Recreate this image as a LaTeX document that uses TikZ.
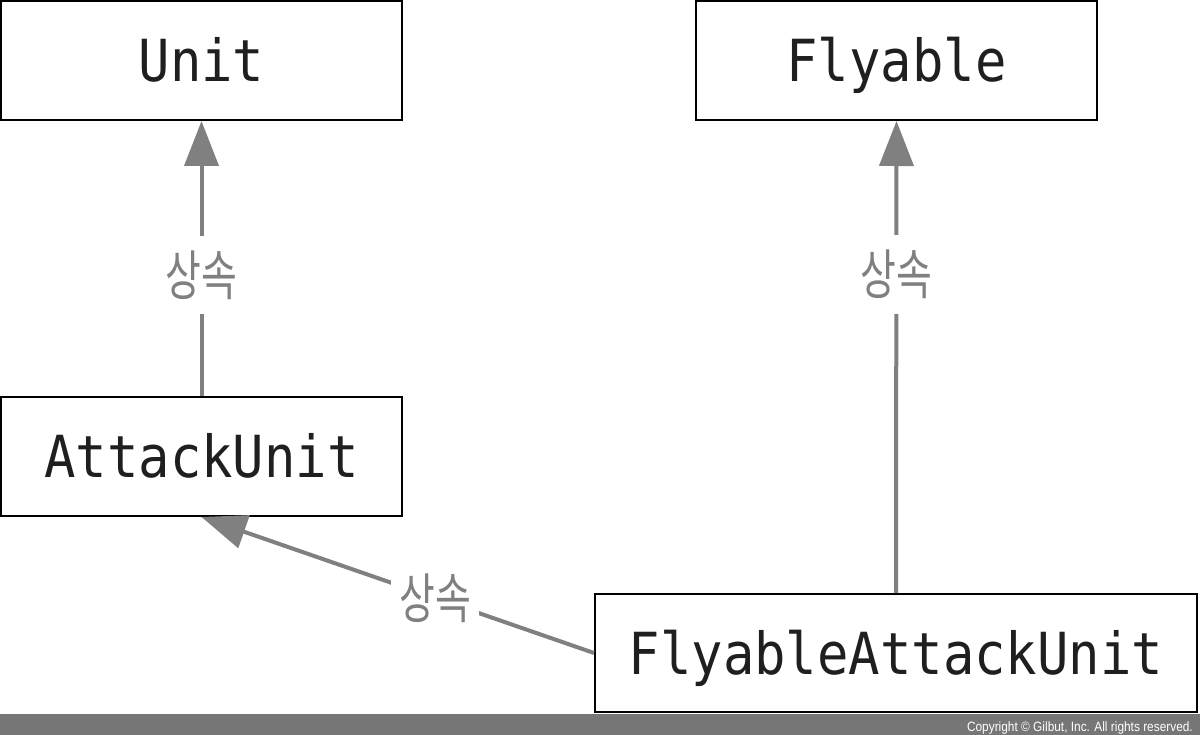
\documentclass[tikz,border=0pt]{standalone}
\usepackage{fontspec}
\usetikzlibrary{arrows.meta}
\newfontfamily\monofnt[FakeStretch=0.90]{DejaVu Sans Mono}
\newfontfamily\krfnt[FakeStretch=0.72]{Noto Sans CJK KR}
\newfontfamily\arialfnt[FakeStretch=0.88]{Liberation Sans}
\definecolor{linegray}{HTML}{808080}
\definecolor{bargray}{HTML}{767676}
\begin{document}
\begin{tikzpicture}[x=1pt,y=-1pt,
  classbox/.style={draw=black, line width=2pt, fill=white, inner sep=0pt,
    minimum height=119pt, text=black!88,
    font=\monofnt\fontsize{58}{58}\selectfont, text height=42pt, text depth=0pt},
  conn/.style={draw=linegray, line width=4pt, -{Triangle[length=45pt,width=34pt]}},
  lbl/.style={fill=white, text=linegray, inner xsep=8pt, inner ysep=15pt,
    font=\krfnt\fontsize{54}{54}\selectfont}
]
\useasboundingbox (0,0) rectangle (1200,735);
\fill[white] (0,0) rectangle (1200,735);
\node[classbox, minimum width=401pt] (unit) at (201.5,60.5) {Unit};
\node[classbox, minimum width=401pt] (fly) at (896.5,60.5) {Flyable};
\node[classbox, minimum width=401pt] (au) at (201.5,456.5) {AttackUnit};
\node[classbox, minimum width=602pt, minimum height=118pt] (fau) at (896,653) {FlyableAttackUnit};
\draw[conn] (au.north) -- node[lbl, pos=0.44] {상속} (unit.south);
\draw[conn] (fau.north) -- node[lbl, pos=0.675] {상속} (fly.south);
\draw[conn] (fau.west) -- node[lbl, pos=0.405] {상속} (au.south);
\fill[bargray] (0,714) rectangle (1200,735);
\node[anchor=base east, inner sep=0pt, text=white, font=\arialfnt\fontsize{13.5}{13.5}\selectfont] (copy) at (1193,731) {Copyright © Gilbut, Inc. All rights reserved.};
\end{tikzpicture}
\end{document}
